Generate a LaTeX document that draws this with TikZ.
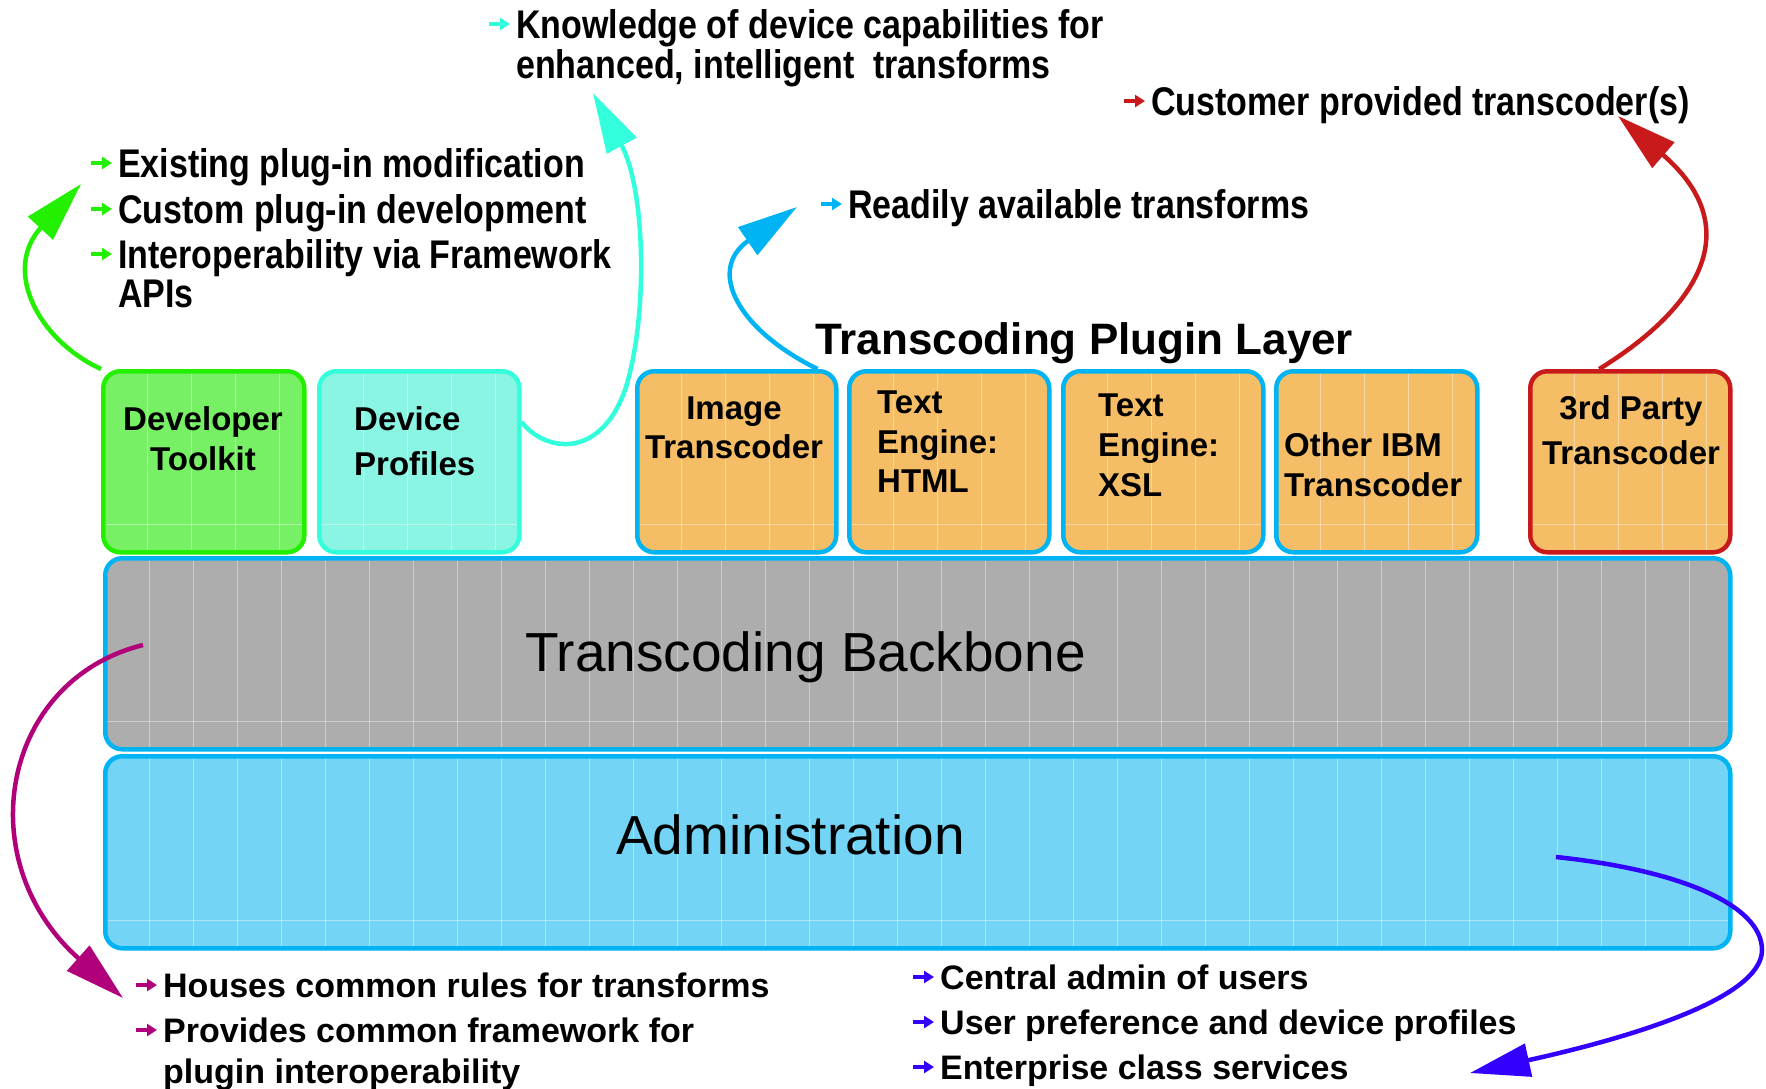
\documentclass[tikz,border=0pt]{standalone}
\usepackage{fontspec}
\setmainfont{Liberation Sans}
\newfontfamily\narrowf[FakeStretch=0.85]{Liberation Sans}
\usetikzlibrary{arrows.meta}
\definecolor{cGreen}{HTML}{22F000}
\definecolor{cCyan}{HTML}{33FFDD}
\definecolor{cSky}{HTML}{00B4F4}
\definecolor{cRed}{HTML}{C81A1A}
\definecolor{cMag}{HTML}{B0007A}
\definecolor{cViol}{HTML}{3300FF}
\definecolor{fGreen}{HTML}{78F066}
\definecolor{fCyan}{HTML}{8AF5E2}
\definecolor{fOrange}{HTML}{F5BE66}
\definecolor{fGray}{HTML}{ADADAD}
\definecolor{fBlue}{HTML}{74D4F6}
\begin{document}
\begin{tikzpicture}[x=1pt,y=-1pt,
  blk/.style={draw, line width=4.5pt, rounded corners=17pt, anchor=north west, inner sep=0pt,
    path picture={
      \foreach \k in {1,...,40}{\draw[white,line width=1.2pt,opacity=0.4]
        ([xshift=\k*44pt]path picture bounding box.north west) --
        ([xshift=\k*44pt]path picture bounding box.south west);}
      \draw[white,line width=1.2pt,opacity=0.4]
        ([yshift=28pt]path picture bounding box.south west) --
        ([yshift=28pt]path picture bounding box.south east);}},
  smallblk/.style={blk, minimum width=200pt, minimum height=181pt},
  boxtxt/.style={inner sep=0pt, font=\bfseries\fontsize{33}{39}\selectfont},
  toptxt/.style={inner sep=0pt, anchor=base west, font=\narrowf\bfseries\fontsize{40}{48}\selectfont},
  bottxt/.style={inner sep=0pt, anchor=base west, font=\bfseries\fontsize{34}{40}\selectfont},
  bigtxt/.style={inner sep=0pt, anchor=base west, font=\fontsize{55}{60}\selectfont},
  conn/.style={line width=4.5pt, -{Triangle[length=60pt,width=33pt]}},
  bul/.style={line width=4.5pt, -{Triangle[length=10pt,width=12pt]}}]

\useasboundingbox (0,0) rectangle (1766,1088);
\fill[white] (0,0) rectangle (1766,1088);

% layers
\node[blk, draw=cSky, fill=fGray, minimum width=1625pt, minimum height=191pt] (bb) at (103,556) {};
\node[blk, draw=cSky, fill=fBlue, minimum width=1625pt, minimum height=192pt] (ad) at (103,754) {};

% plugin boxes
\node[smallblk, draw=cGreen, fill=fGreen, minimum width=201pt] (dt) at (101,369) {};
\node[smallblk, draw=cCyan, fill=fCyan] (dp) at (317,369) {};
\node[smallblk, draw=cSky, fill=fOrange, minimum width=199pt] (it) at (635,369) {};
\node[smallblk, draw=cSky, fill=fOrange] (th) at (847,369) {};
\node[smallblk, draw=cSky, fill=fOrange] (tx) at (1061,369) {};
\node[smallblk, draw=cSky, fill=fOrange, minimum width=201pt] (ot) at (1274,369) {};
\node[smallblk, draw=cRed, fill=fOrange] (tp) at (1528,369) {};

% box texts
\node[boxtxt, anchor=base] (dt1) at (203,430) {Developer};
\node[boxtxt, anchor=base] (dt2) at (203,470) {Toolkit};
\node[boxtxt, anchor=base west] (dp1) at (354,430) {Device};
\node[boxtxt, anchor=base west] (dp2) at (354,475) {Profiles};
\node[boxtxt, anchor=base] (it1) at (734,419) {Image};
\node[boxtxt, anchor=base] (it2) at (734,458) {Transcoder};
\node[boxtxt, anchor=base west] (th1) at (877,413) {Text};
\node[boxtxt, anchor=base west] (th2) at (877,453) {Engine:};
\node[boxtxt, anchor=base west] (th3) at (877,492) {HTML};
\node[boxtxt, anchor=base west] (tx1) at (1098,416) {Text};
\node[boxtxt, anchor=base west] (tx2) at (1098,456) {Engine:};
\node[boxtxt, anchor=base west] (tx3) at (1098,496) {XSL};
\node[boxtxt, anchor=base west] (ot1) at (1284,456) {Other IBM};
\node[boxtxt, anchor=base west] (ot2) at (1284,496) {Transcoder};
\node[boxtxt, anchor=base] (tp1) at (1631,419) {3rd Party};
\node[boxtxt, anchor=base] (tp2) at (1631,464) {Transcoder};

% titles
\node[inner sep=0pt, anchor=base west, font=\bfseries\fontsize{44}{50}\selectfont] (pl) at (815,354) {Transcoding Plugin Layer};
\node[bigtxt] (bbt) at (525,671) {Transcoding Backbone};
\node[bigtxt] (adt) at (616,854) {Administration};

% top texts
\node[toptxt] (kn1) at (516,38) {Knowledge of device capabilities for};
\node[toptxt] (kn2) at (516,78) {enhanced, intelligent\ \ transforms};
\node[toptxt] (cu) at (1151,115) {Customer provided transcoder(s)};
\node[toptxt] (g1) at (118,177) {Existing plug-in modification};
\node[toptxt] (g2) at (118,223) {Custom plug-in development};
\node[toptxt] (g3) at (118,268) {Interoperability via Framework};
\node[toptxt] (g4) at (118,307) {APIs};
\node[toptxt] (rd) at (848,218) {Readily available transforms};

% bottom texts
\node[bottxt] (m1) at (163,997) {Houses common rules for transforms};
\node[bottxt] (m2) at (163,1042) {Provides common framework for};
\node[bottxt] (m3) at (163,1083) {plugin interoperability};
\node[bottxt] (b1) at (940,989) {Central admin of users};
\node[bottxt] (b2) at (940,1034) {User preference and device profiles};
\node[bottxt] (b3) at (940,1079) {Enterprise class services};

% bullets
\foreach \n/\c in {kn1/cCyan, cu/cRed, g1/cGreen, g2/cGreen, g3/cGreen, rd/cSky}
  \draw[bul, \c] ([xshift=-27pt,yshift=14pt]\n.base west) -- ++(21,0);
\foreach \n/\c in {m1/cMag, m2/cMag, b1/cViol, b2/cViol, b3/cViol}
  \draw[bul, \c] ([xshift=-27pt,yshift=12pt]\n.base west) -- ++(21,0);

% connector end points
\coordinate (gT) at (81,184);
\coordinate (cT) at (593,93);
\coordinate (sT) at (797,207);
\coordinate (rT) at (1618,116);
\coordinate (mS) at (143,645);
\coordinate (mT) at (123,998);
\coordinate (vS) at (1556,857);
\coordinate (vT) at (1470,1073);

% connectors
\draw[conn, cGreen] (dt.north west) .. controls (38,340) and (2,270) .. (gT);
\draw[conn, cCyan] ([yshift=-53pt]dp.north east) .. controls (545,452) and (600,460) .. (625,390)
   .. controls (648,320) and (646,190) .. (cT);
\draw[conn, cSky] ([xshift=-21pt]it.north east) .. controls (738,330) and (706,270) .. (sT);
\draw[conn, cRed] ([xshift=-31pt]tp.north) .. controls (1695,310) and (1750,230) .. (rT);
\draw[conn, cMag] (mS) .. controls (2,680) and (-32,860) .. (mT);
\draw[conn, cViol] (vS) .. controls (1680,870) and (1762,905) .. (1762,950)
   .. controls (1762,1000) and (1620,1040) .. (vT);
\end{tikzpicture}
\end{document}
